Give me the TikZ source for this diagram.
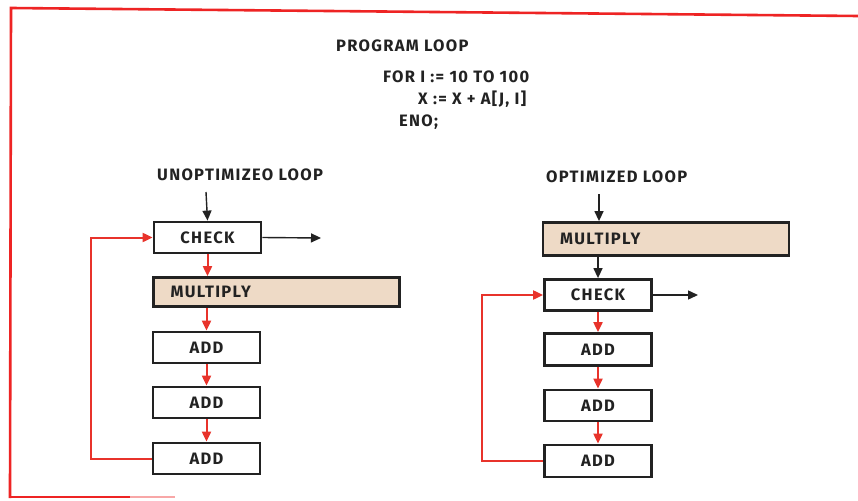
\documentclass[tikz,border=0pt]{standalone}
\usepackage{fontspec}
\setmainfont{PT Sans}
\newfontfamily\hf[LetterSpace=8]{Fira Sans}
\usetikzlibrary{arrows.meta}
\definecolor{lred}{HTML}{E8332B}
\definecolor{brd}{HTML}{EE2424}
\definecolor{tan}{HTML}{EEDAC6}
\definecolor{ink}{HTML}{222222}
\tikzset{
  box/.style={draw=ink, line width=2.8pt, fill=white, minimum width=107pt, minimum height=31pt,
     inner sep=0pt, font=\hf\fontsize{16.5}{18}\selectfont\bfseries, text=ink},
  mulbox/.style={box, fill=tan, minimum width=246pt, minimum height=29pt, text width=212pt, align=left},
  lbl/.style={font=\hf\fontsize{16.5}{18}\selectfont\bfseries, text=ink, inner sep=0pt, anchor=west},
  blk/.style={draw=ink, line width=1.4pt, -{Triangle[length=10pt,width=9pt]}},
  rdl/.style={draw=lred, line width=2pt, -{Triangle[length=10pt,width=9pt]}},
}
\begin{document}
\begin{tikzpicture}[x=1pt,y=-1pt]
\useasboundingbox (0,0) rectangle (858,500);
\fill[white] (0,0) rectangle (858,500);
% border
\draw[brd, line width=2.6pt] (10,498) -- (11,8) -- (858,16);
\draw[brd, line width=2.2pt] (9,497) -- (130,497);
\draw[brd!40, line width=2.2pt] (130,497) -- (175,497);
% header texts
\node[lbl] (t1) at (336,46) {PROGRAM LOOP};
\node[lbl] (t2) at (383,77) {FOR I := 10 TO 100};
\node[lbl] (t3) at (418,99) {X := X + A[J, I]};
\node[lbl] (t4) at (399,122) {ENO;};
\node[lbl] (t5) at (157,175) {UNOPTIMIZEO LOOP};
\node[lbl] (t6) at (546,177) {OPTIMIZED LOOP};
% left column
\coordinate (lin) at (206,192);
\node[box] (c1) at (207.5,237.5) {CHECK};
\coordinate (lout) at (321,238);
\node[mulbox] (m1) at (276.5,292) {MULTIPLY};
\node[box] (a1) at (206.5,347.5) {ADD};
\node[box] (a2) at (206.5,402.5) {ADD};
\node[box] (a3) at (206.5,458.5) {ADD};
\coordinate (lp) at (91,0);
\draw[blk] (lin) -- (c1.north);
\draw[blk] (c1.east) -- (lout);
\draw[rdl] (c1.south) -- (m1.north -| c1.south);
\draw[rdl] (m1.south -| a1.north) -- (a1.north);
\draw[rdl] (a1.south) -- (a2.north);
\draw[rdl] (a2.south) -- (a3.north);
\draw[rdl] (a3.west) -- (a3.west -| lp) -- (lp |- c1.west) -- (c1.west);
% right column
\coordinate (rin) at (599,194);
\node[mulbox, minimum height=33pt] (m2) at (666,239) {MULTIPLY};
\node[box] (c2) at (598,295) {CHECK};
\coordinate (rout) at (698,295);
\node[box, minimum height=32pt] (b1) at (598,349.5) {ADD};
\node[box] (b2) at (598,405.5) {ADD};
\node[box, minimum height=32pt] (b3) at (598,461) {ADD};
\coordinate (rp) at (482,0);
\draw[blk] (rin) -- (rin |- m2.north);
\draw[blk] (m2.south -| c2.north) -- (c2.north);
\draw[blk] (c2.east) -- (rout);
\draw[rdl] (c2.south) -- (b1.north);
\draw[rdl] (b1.south) -- (b2.north);
\draw[rdl] (b2.south) -- (b3.north);
\draw[rdl] (b3.west) -- (b3.west -| rp) -- (rp |- c2.west) -- (c2.west);
\end{tikzpicture}
\end{document}
